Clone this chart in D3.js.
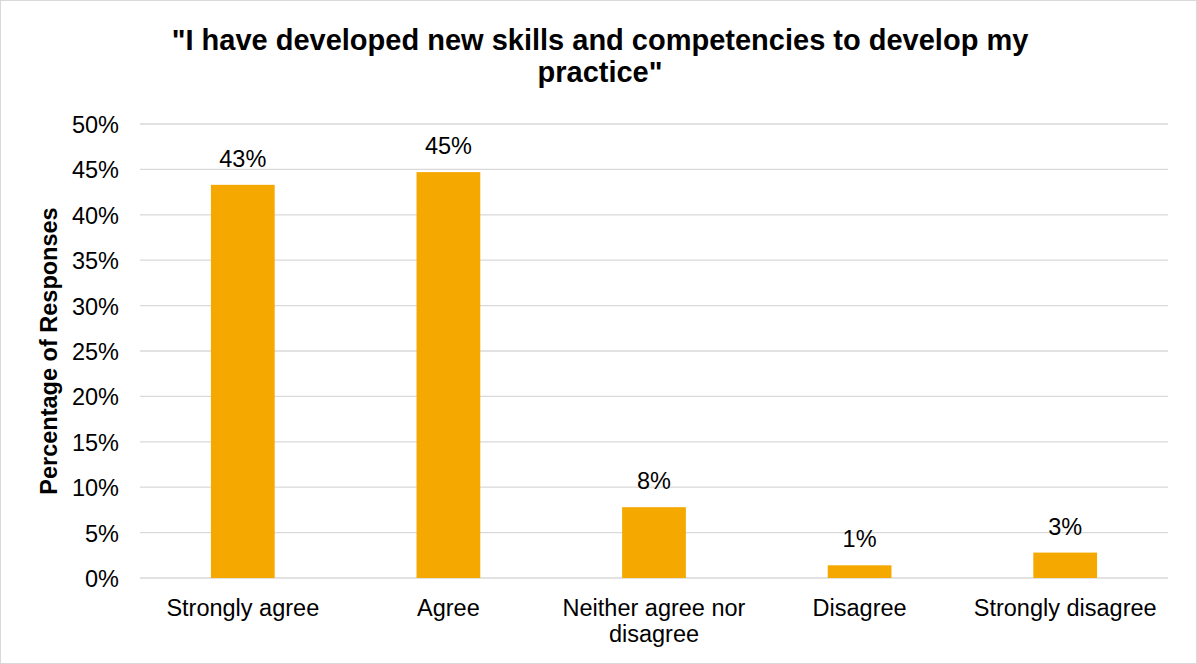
<!DOCTYPE html>
<html><head><meta charset="utf-8">
<script src="https://cdn.jsdelivr.net/npm/d3@7"></script>
<style>body{margin:0;background:#fff;} text{font-family:"Liberation Sans",Arial,sans-serif;}</style>
</head><body>
<svg id="c" width="1197" height="664"></svg>
<script>
const categories = ["Strongly agree","Agree","Neither agree nor disagree","Disagree","Strongly disagree"];
const categoryLines = [["Strongly agree"],["Agree"],["Neither agree nor","disagree"],["Disagree"],["Strongly disagree"]];
const values = [0.433, 0.447, 0.078, 0.014, 0.028];
const valueLabels = ["43%","45%","8%","1%","3%"];
const yTicks = [0,0.05,0.10,0.15,0.20,0.25,0.30,0.35,0.40,0.45,0.50];
const titleLines = ["\"I have developed new skills and competencies to develop my","practice\""];
const yTitle = "Percentage of Responses";

(function(){
const svg = d3.select("#c");
svg.append("rect").attr("x",0.5).attr("y",0.5).attr("width",1196).attr("height",663)
  .attr("fill","#fff").attr("stroke","#d9d9d9");

const pLeft=140, pRight=1168, pTop=124, pBottom=578;
const FS = 23.5;
const x = d3.scaleBand().domain(categories).range([pLeft,pRight]).paddingInner(0.69).paddingOuter(0.345);
const y = d3.scaleLinear().domain([0,0.5]).range([pBottom,pTop]);

svg.append("g").selectAll("line").data(yTicks).join("line")
  .attr("x1",pLeft).attr("x2",pRight).attr("y1",d=>y(d)).attr("y2",d=>y(d))
  .attr("stroke","#d9d9d9").attr("stroke-width",1.3);

const yAxis = d3.axisLeft(y).tickValues(yTicks).tickFormat(d3.format(".0%")).tickSize(0).tickPadding(0);
const gy = svg.append("g").attr("transform",`translate(119,0)`).call(yAxis);
gy.select(".domain").remove();
gy.selectAll("text").attr("font-size",FS).attr("fill","#000").attr("dy","0.36em")
  .attr("font-family","Liberation Sans, Arial, sans-serif");

svg.append("g").selectAll("rect").data(values).join("rect")
  .attr("x",(d,i)=>x(categories[i])).attr("width",x.bandwidth())
  .attr("y",d=>y(d)).attr("height",d=>y(0)-y(d)).attr("fill","#F5A800");

svg.append("g").selectAll("text").data(values).join("text")
  .attr("x",(d,i)=>x(categories[i])+x.bandwidth()/2).attr("y",d=>y(d)-18)
  .attr("text-anchor","middle").attr("font-size",FS).attr("fill","#000")
  .text((d,i)=>valueLabels[i]);

const xl = svg.append("g").selectAll("text").data(categories).join("text")
  .attr("x",d=>x(d)+x.bandwidth()/2).attr("y",616)
  .attr("text-anchor","middle").attr("font-size",FS).attr("fill","#000");
xl.each(function(d,i){
  const t=d3.select(this);
  categoryLines[i].forEach((ln,j)=>t.append("tspan").attr("x",x(d)+x.bandwidth()/2).attr("dy",j===0?0:26).text(ln));
});

const tt = svg.append("text").attr("x",600).attr("y",50).attr("text-anchor","middle")
  .attr("font-size",29).attr("font-weight","bold").attr("fill","#000");
titleLines.forEach((ln,j)=>tt.append("tspan").attr("x",600).attr("dy",j===0?0:32).text(ln));

svg.append("text").attr("transform",`translate(57,${(pTop+pBottom)/2}) rotate(-90)`)
  .attr("text-anchor","middle").attr("font-size",23.5).attr("font-weight","bold").attr("fill","#000")
  .text(yTitle);
})();
</script>
</body></html>
